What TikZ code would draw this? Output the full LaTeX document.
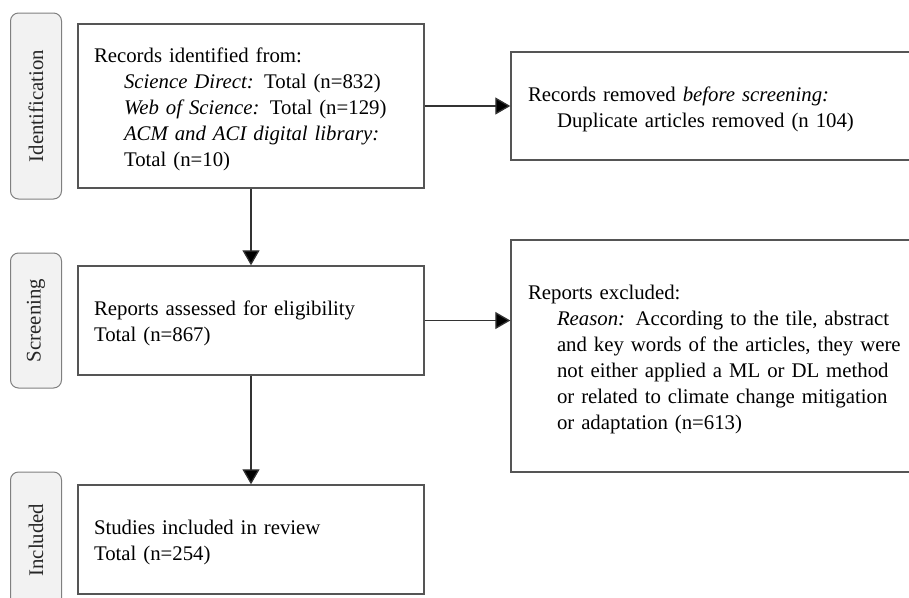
\documentclass[tikz,border=0pt]{standalone}
\usepackage{fontspec}
\setmainfont{Liberation Serif}
\usetikzlibrary{arrows.meta,calc}
\definecolor{boxline}{HTML}{555555}
\definecolor{tabline}{HTML}{808080}
\definecolor{tabfill}{HTML}{F2F2F2}
\definecolor{arrowline}{HTML}{333333}
\newcommand{\firststrut}{\rule{0pt}{21pt}}
\tikzset{
  stagetab/.style={draw=tabline, fill=tabfill, line width=1pt, rounded corners=8pt,
    rotate=90, minimum height=51pt, inner sep=0pt, text=black!85,
    font=\fontsize{20.8}{26}\selectfont},
  flowbox/.style={draw=boxline, line width=1.4pt, rectangle, inner xsep=16pt, inner ysep=0pt,
    align=left, font=\fontsize{20.8}{26}\selectfont},
  flowarrow/.style={draw=arrowline, line width=1.3pt, -{Triangle[length=15pt,width=17pt,fill=black]}},
}
\begin{document}
\begin{tikzpicture}[x=1pt,y=-1pt]
\useasboundingbox (0,0) rectangle (909,597);
\clip (0,0) rectangle (909,597);
% stage tabs
\node[stagetab, minimum width=186pt] (tid) at (36,106) {Identification};
\node[stagetab, minimum width=135pt] (tscr) at (36,320.5) {Screening};
\node[stagetab, minimum width=136pt] (tinc) at (36,540) {Included};
% main boxes
\node[flowbox, minimum width=346pt, minimum height=164pt, text width=314pt] (ident) at (251,106)
  {\firststrut Records identified from:\\
   \hspace*{30pt}{\itshape Science Direct:} Total (n=832)\\
   \hspace*{30pt}{\itshape Web of Science:} Total (n=129)\\
   \hspace*{30pt}{\itshape ACM and ACI digital library:}\\
   \hspace*{30pt}Total (n=10)};
\node[flowbox, minimum width=346pt, minimum height=109pt, text width=314pt] (assess) at (251,320.5)
  {\firststrut Reports assessed for eligibility\\
   Total (n=867)};
\node[flowbox, minimum width=346pt, minimum height=109pt, text width=314pt] (incl) at (251,539.5)
  {\firststrut Studies included in review\\
   Total (n=254)};
% side boxes
\node[flowbox, inner xsep=17pt, minimum width=409pt, minimum height=108pt, text width=375pt] (removed) at (715.5,106)
  {\firststrut Records removed {\itshape before screening:}\\
   \hspace*{29pt}Duplicate articles removed (n 104)};
\node[flowbox, inner xsep=17pt, minimum width=409pt, minimum height=232pt, text width=375pt] (excl) at (715.5,356)
  {\firststrut Reports excluded:\\
   \hspace*{29pt}\makebox[346pt][s]{{\itshape Reason:} According to the tile, abstract}\\
   \hspace*{29pt}\makebox[346pt][s]{and key words of the articles, they were}\\
   \hspace*{29pt}\makebox[346pt][s]{not either applied a ML or DL method}\\
   \hspace*{29pt}\makebox[346pt][s]{or related to climate change mitigation}\\
   \hspace*{29pt}or adaptation (n=613)};
% connectors
\draw[flowarrow] (ident.south) -- (assess.north);
\draw[flowarrow] (assess.south) -- (incl.north);
\draw[flowarrow] (ident.east) -- (removed.west);
\draw[flowarrow] (assess.east) -- (assess.east -| excl.west);
\end{tikzpicture}
\end{document}
